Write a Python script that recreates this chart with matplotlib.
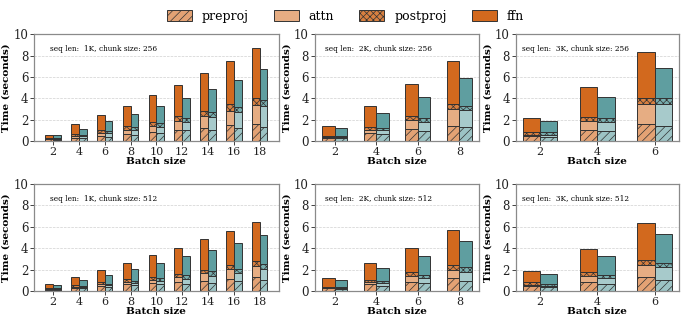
"""Stacked per-layer time breakdown, 2 rows (chunk 256 / 512) x 3 seq lens."""

import matplotlib
matplotlib.use("Agg")
import matplotlib.pyplot as plt
from matplotlib.colors import to_rgb
from matplotlib.patches import Patch

PARTS = ["preproj", "attn", "postproj", "ffn"]

BATCH_1K = [2, 4, 6, 8, 10, 12, 14, 16, 18]
BATCH_2K = [2, 4, 6, 8]
BATCH_3K = [2, 4, 6]

# rows: preproj, attn, postproj, ffn ; _a = orange bar, _b = teal bar
k1_256_a = [[0.16, 0.34, 0.50, 0.65, 0.87, 1.09, 1.25, 1.47, 1.62],
            [0.06, 0.16, 0.31, 0.44, 0.53, 0.81, 1.12, 1.37, 1.78],
            [0.09, 0.15, 0.22, 0.31, 0.40, 0.41, 0.47, 0.60, 0.60],
            [0.31, 0.91, 1.46, 1.93, 2.50, 2.97, 3.53, 4.03, 4.66]]
k1_256_b = [[0.14, 0.28, 0.40, 0.59, 0.81, 1.00, 1.09, 1.22, 1.37],
            [0.06, 0.16, 0.32, 0.41, 0.53, 0.78, 1.16, 1.50, 1.91],
            [0.08, 0.12, 0.21, 0.28, 0.40, 0.41, 0.44, 0.47, 0.53],
            [0.25, 0.62, 0.91, 1.27, 1.56, 1.87, 2.21, 2.56, 2.91]]
k2_256_a = [[0.33, 0.72, 1.15, 1.43],
            [0.08, 0.37, 0.81, 1.53],
            [0.10, 0.25, 0.38, 0.47],
            [0.89, 1.93, 2.96, 4.05]]
k2_256_b = [[0.30, 0.65, 0.97, 1.28],
            [0.07, 0.38, 0.84, 1.62],
            [0.10, 0.22, 0.40, 0.43],
            [0.74, 1.37, 1.96, 2.53]]
k3_256_a = [[0.44, 1.03, 1.62],
            [0.18, 0.84, 1.84],
            [0.25, 0.40, 0.59],
            [1.25, 2.75, 4.30]]
k3_256_b = [[0.40, 0.93, 1.40],
            [0.22, 0.88, 2.06],
            [0.22, 0.40, 0.53],
            [1.06, 1.87, 2.80]]
k1_512_a = [[0.14, 0.31, 0.50, 0.66, 0.78, 0.81, 0.94, 1.16, 1.34],
            [0.06, 0.09, 0.16, 0.21, 0.28, 0.50, 0.72, 0.93, 1.03],
            [0.08, 0.13, 0.15, 0.22, 0.25, 0.31, 0.34, 0.31, 0.41],
            [0.34, 0.75, 1.19, 1.57, 2.03, 2.44, 2.84, 3.22, 3.69]]
k1_512_b = [[0.12, 0.25, 0.40, 0.56, 0.66, 0.69, 0.72, 0.90, 1.03],
            [0.05, 0.09, 0.16, 0.22, 0.31, 0.47, 0.72, 0.82, 1.03],
            [0.07, 0.10, 0.13, 0.19, 0.25, 0.31, 0.40, 0.34, 0.44],
            [0.29, 0.56, 0.84, 1.12, 1.44, 1.78, 2.03, 2.47, 2.72]]
k2_512_a = [[0.25, 0.62, 0.87, 1.19],
            [0.06, 0.19, 0.50, 0.81],
            [0.07, 0.25, 0.38, 0.47],
            [0.84, 1.53, 2.31, 3.19]]
k2_512_b = [[0.22, 0.50, 0.72, 0.90],
            [0.06, 0.22, 0.53, 0.85],
            [0.07, 0.22, 0.28, 0.47],
            [0.71, 1.22, 1.78, 2.44]]
k3_512_a = [[0.44, 0.81, 1.28],
            [0.15, 0.60, 1.16],
            [0.22, 0.34, 0.50],
            [1.03, 2.15, 3.46]]
k3_512_b = [[0.34, 0.66, 1.00],
            [0.16, 0.56, 1.22],
            [0.19, 0.31, 0.44],
            [0.87, 1.75, 2.68]]

PANELS = [
    (BATCH_1K, k1_256_a, k1_256_b, "seq len:  1K, chunk size: 256"),
    (BATCH_2K, k2_256_a, k2_256_b, "seq len:  2K, chunk size: 256"),
    (BATCH_3K, k3_256_a, k3_256_b, "seq len:  3K, chunk size: 256"),
    (BATCH_1K, k1_512_a, k1_512_b, "seq len:  1K, chunk size: 512"),
    (BATCH_2K, k2_512_a, k2_512_b, "seq len:  2K, chunk size: 512"),
    (BATCH_3K, k3_512_a, k3_512_b, "seq len:  3K, chunk size: 512"),
]
TEXT_X = [0.064, 0.059, 0.037]

ORANGE, TEAL = "#d2691e", "#5f9ea0"
EDGE = "#333333"


def tint(c, a):
    r, g, b = to_rgb(c)
    return (a * r + 1 - a, a * g + 1 - a, a * b + 1 - a)


def styles(base):
    return [dict(color=tint(base, 0.62), hatch="////"),
            dict(color=tint(base, 0.55), hatch=None),
            dict(color=tint(base, 0.85), hatch="xxxxx"),
            dict(color=base, hatch=None)]


plt.rcParams.update({
    "font.family": "serif", "font.serif": ["DejaVu Serif"],
    "font.size": 8, "xtick.labelsize": 8, "ytick.labelsize": 8.5,
    "hatch.linewidth": 0.5, "hatch.color": EDGE,
    "axes.edgecolor": "#8a8a8a", "xtick.color": "#222222", "ytick.color": "#222222",
})

fig = plt.figure(figsize=(6.84, 3.16), dpi=100)
gs = fig.add_gridspec(2, 3, width_ratios=[245, 165, 164], left=0.050, right=0.993,
                      top=0.892, bottom=0.079, hspace=0.40, wspace=0.19)

W = 0.6
for k, (batches, a, b, label) in enumerate(PANELS):
    ax = fig.add_subplot(gs[k // 3, k % 3])
    for data, base, off in ((a, ORANGE, -W / 2), (b, TEAL, W / 2)):
        bottom = [0.0] * len(batches)
        for vals, st in zip(data, styles(base)):
            ax.bar([x + off for x in batches], vals, W, bottom=bottom, color=st["color"],
                   hatch=st["hatch"], edgecolor=EDGE, linewidth=0.7)
            bottom = [p + v for p, v in zip(bottom, vals)]
    ax.set_ylim(0, 10)
    ax.set_yticks(range(0, 11, 2))
    ax.set_xticks(batches)
    ax.yaxis.grid(True, linestyle="--", linewidth=0.5, color="#d0d0d0")
    ax.set_axisbelow(True)
    ax.tick_params(length=3, width=0.6, pad=1.2)
    for s in ax.spines.values():
        s.set_linewidth(0.9)
    ax.set_xlabel("Batch size", fontweight="bold", fontsize=7.5, labelpad=0)
    ax.set_ylabel("Time (seconds)", fontweight="bold", fontsize=7.5, labelpad=2)
    ax.text(TEXT_X[k % 3], 0.857, label, transform=ax.transAxes, fontsize=5.3,
            ha="left", va="center")

handles = [Patch(facecolor=st["color"], hatch=st["hatch"], edgecolor=EDGE, linewidth=0.7)
           for st in styles(ORANGE)]
fig.legend(handles, PARTS, loc="upper center", ncol=4, frameon=False, fontsize=9,
           bbox_to_anchor=(0.505, 1.005), handlelength=2.0, handleheight=0.9,
           columnspacing=2.0, handletextpad=0.8)

fig.savefig("out.png", dpi=100)
